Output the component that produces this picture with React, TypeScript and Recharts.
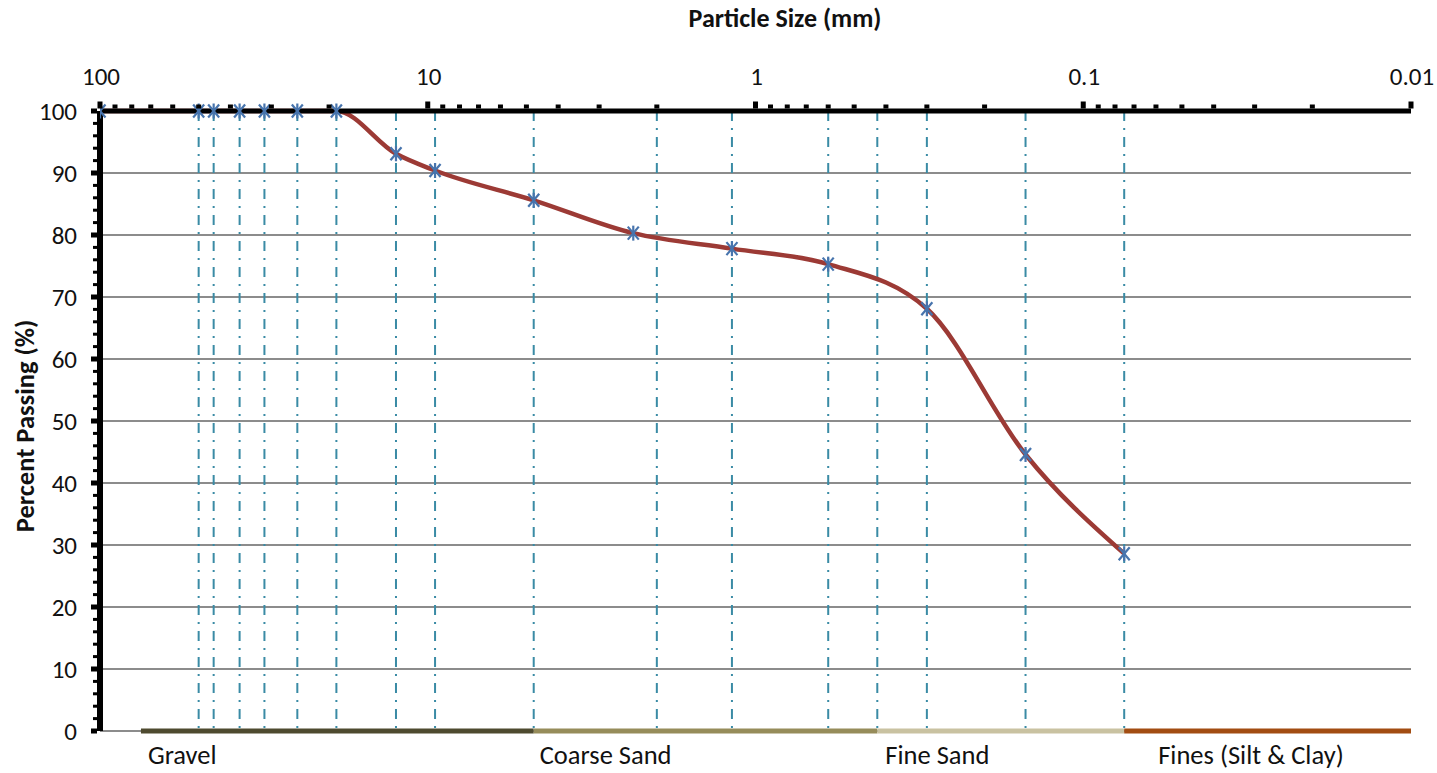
import { ComposedChart, Line, XAxis, YAxis, ReferenceLine } from "recharts";

// sieve analysis
const sieveSizes = [100, 50, 45, 37.5, 31.5, 25, 19, 12.5, 9.5, 4.75, 2.36, 1.18, 0.6, 0.3, 0.15, 0.075];
const percentPassing = [100, 100, 100, 100, 100, 100, 100, 93.1, 90.4, 85.6, 80.3, 77.8, 75.3, 68.1, 44.6, 28.6];

// dash-dot drop lines
const dropLineSizes = [50, 45, 37.5, 31.5, 25, 19, 12.5, 9.5, 4.75, 2, 1.18, 0.6, 0.425, 0.3, 0.15, 0.075];

// soil classes along the bottom
const bandNames = ["Gravel", "Coarse Sand", "Fine Sand", "Fines (Silt & Clay)"];
const bandFrom = [75, 4.75, 0.425, 0.075];
const bandTo = [4.75, 0.425, 0.075, 0.01];

const decadeLabels = [100, 10, 1, 0.1, 0.01];
const xTicks = [
  100, 90, 80, 70, 60, 50, 40, 30, 20,
  10, 9, 8, 7, 6, 5, 4, 3, 2,
  1, 0.9, 0.8, 0.7, 0.6, 0.5, 0.4, 0.3, 0.2,
  0.1, 0.09, 0.08, 0.07, 0.06, 0.05, 0.04, 0.03, 0.02,
  0.01,
];
const yLabels = [0, 10, 20, 30, 40, 50, 60, 70, 80, 90, 100];
const yTicks = Array.from({ length: 51 }, (_, i) => i * 2);
const gridValues = [0, 10, 20, 30, 40, 50, 60, 70, 80, 90];

const FONT = "Calibri, Carlito, Lato, sans-serif";
const bandColors = ["#4e4a2f", "#968c5a", "#c9c2a1", "#a24d12"];
const bandLabelDx = [7, 6, 8, 34];

const data = sieveSizes.map((size, i) => ({ size, pct: percentPassing[i] }));

function TopTick(props: any) {
  const { x, y, payload } = props;
  const v = payload.value;
  const major = decadeLabels.some((d) => Math.abs(d - v) < 1e-9);
  const h = major ? 7 : 4;
  return (
    <g>
      <rect x={x - 2.5} y={y - 2.5 - h} width={5} height={h} fill="#000" />
      {major && (
        <text x={x + 1} y={y - 26} textAnchor="middle" fontSize={25} fill="#111" fontFamily={FONT}>
          {String(v)}
        </text>
      )}
    </g>
  );
}

function LeftTick(props: any) {
  const { x, y, payload } = props;
  const v = payload.value;
  const major = yLabels.includes(v);
  const w = major ? 6 : 4;
  const h = major ? 5 : 3;
  return (
    <g>
      <rect x={x - 3 - w} y={y - h / 2} width={w} height={h} fill="#000" />
      {major && (
        <text x={x - 23} y={y + 8.5} textAnchor="end" fontSize={25} fill="#111" fontFamily={FONT}>
          {v}
        </text>
      )}
    </g>
  );
}

function Star(props: any) {
  const { cx, cy } = props;
  if (cx == null || cy == null) return null;
  const c = "#4774ad";
  return (
    <g stroke={c} strokeWidth={2.2}>
      <line x1={cx - 5.5} y1={cy - 6.5} x2={cx + 5.5} y2={cy + 6.5} />
      <line x1={cx + 5.5} y1={cy - 6.5} x2={cx - 5.5} y2={cy + 6.5} />
      <line x1={cx} y1={cy - 7.5} x2={cx} y2={cy + 7.5} />
    </g>
  );
}

function bandLabel(i: number) {
  return (props: any) => {
    const vb = props.viewBox || {};
    return (
      <text x={(vb.x ?? 0) + bandLabelDx[i]} y={(vb.y ?? 0) + 33} fontSize={26.5} fill="#111" fontFamily={FONT}>
        {bandNames[i]}
      </text>
    );
  };
}

export default function App() {
  return (
    <div style={{ position: "absolute", left: 0, top: 0, width: 1437, height: 773, background: "#fff", fontFamily: FONT }}>
      <ComposedChart width={1437} height={773} data={data} margin={{ top: 31, right: 26, bottom: 42, left: 20 }}>
        <XAxis
          dataKey="size"
          type="number"
          scale="log"
          domain={[0.01, 100]}
          allowDataOverflow
          reversed
          orientation="top"
          ticks={xTicks}
          interval={0}
          height={80}
          tickSize={0}
          tickMargin={0}
          tickLine={false}
          axisLine={{ stroke: "#000", strokeWidth: 5 }}
          tick={TopTick}
        />
        <YAxis
          type="number"
          domain={[0, 100]}
          ticks={yTicks}
          interval={0}
          width={80}
          tickSize={0}
          tickMargin={0}
          tickLine={false}
          axisLine={{ stroke: "#000", strokeWidth: 6 }}
          tick={LeftTick}
        />
        {gridValues.map((v) => (
          <ReferenceLine key={"g" + v} y={v} stroke="#8c8c8c" strokeWidth={2} />
        ))}
        {dropLineSizes.map((s) => (
          <ReferenceLine key={"d" + s} x={s} stroke="#3a8ba5" strokeWidth={2} strokeDasharray="10 7 2 7" />
        ))}
        {bandNames.map((name, i) => (
          <ReferenceLine
            key={name}
            segment={[
              { x: bandFrom[i], y: 0 },
              { x: bandTo[i], y: 0 },
            ]}
            stroke={bandColors[i]}
            strokeWidth={5}
            label={bandLabel(i)}
          />
        ))}
        <Line
          dataKey="pct"
          type="monotone"
          stroke="#9c3a35"
          strokeWidth={4.5}
          dot={(p: any) => <Star key={"s" + p.index} {...p} />}
          activeDot={false}
          isAnimationActive={false}
        />
      </ComposedChart>
      <div
        style={{
          position: "absolute",
          left: 785,
          top: 3,
          transform: "translateX(-50%)",
          fontSize: 26,
          lineHeight: "30px",
          fontWeight: 700,
          color: "#111",
          whiteSpace: "nowrap",
        }}
      >
        Particle Size (mm)
      </div>
      <div
        style={{
          position: "absolute",
          left: 25,
          top: 426,
          transform: "translate(-50%, -50%) rotate(-90deg)",
          fontSize: 26.5,
          lineHeight: "30px",
          fontWeight: 700,
          color: "#111",
          whiteSpace: "nowrap",
        }}
      >
        Percent Passing (%)
      </div>
    </div>
  );
}
